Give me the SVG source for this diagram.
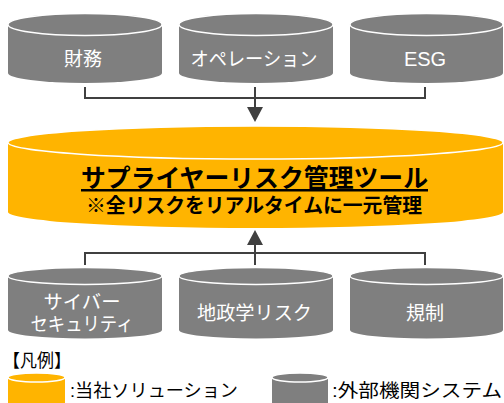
<svg xmlns="http://www.w3.org/2000/svg" width="504" height="403" viewBox="0 0 504 403">
<defs>
<style>
.gb{fill:#7f7f7f}
.gt{fill:#7f7f7f;stroke:#fff;stroke-width:1.5}
.ob{fill:#ffb400}
.ot{fill:#ffb400;stroke:#fff;stroke-width:1.5}
.wl{font-family:"Liberation Sans","Noto Sans CJK JP",sans-serif;font-size:19px;fill:#fff;text-anchor:middle}
.bl{font-family:"Liberation Sans","Noto Sans CJK JP",sans-serif;fill:#000}
.ln{fill:none;stroke:#404040;stroke-width:2}
.ah{fill:#404040}
</style>
</defs>
<g id="connectors">
<path class="ln" d="M85 87V98H425V87M255 87V108"/>
<polygon class="ah" points="247,107 263,107 255,122"/>
<path class="ln" d="M85 265V253H425V265M255 265V244"/>
<polygon class="ah" points="247,245 263,245 255,230"/>
</g>
<g id="finance">
<path class="gb" d="M8 24.5V73A77 10 0 0 0 162 73V24.5Z"/>
<ellipse class="gt" cx="85" cy="24.5" rx="77" ry="11"/>
<text class="wl" x="83" y="66">財務</text>
</g>
<g id="operation">
<path class="gb" d="M179 24.5V73A77 10 0 0 0 333 73V24.5Z"/>
<ellipse class="gt" cx="256" cy="24.5" rx="77" ry="11"/>
<text class="wl" x="254" y="66" textLength="127" lengthAdjust="spacingAndGlyphs">オペレーション</text>
</g>
<g id="esg">
<path class="gb" d="M350 24.5V73A76.5 10 0 0 0 503 73V24.5Z"/>
<ellipse class="gt" cx="426.5" cy="24.5" rx="76.5" ry="11"/>
<text class="wl" x="425" y="66" style="font-size:20px">ESG</text>
</g>
<g id="tool">
<path class="ob" d="M8 142.5V212A247.5 16 0 0 0 503 212V142.5Z"/>
<ellipse class="ot" cx="255.5" cy="142.5" rx="247.5" ry="16.5"/>
<text class="bl" x="254.5" y="187" text-anchor="middle" style="font-size:25px;font-weight:bold" text-decoration="underline" textLength="347" lengthAdjust="spacingAndGlyphs">サプライヤーリスク管理ツール</text>
<text class="bl" x="254" y="213" text-anchor="middle" style="font-size:20px;font-weight:bold" textLength="336" lengthAdjust="spacingAndGlyphs">※全リスクをリアルタイムに一元管理</text>
</g>
<g id="cyber">
<path class="gb" d="M8 276V330A77 8.5 0 0 0 162 330V276Z"/>
<ellipse class="gt" cx="85" cy="276" rx="77" ry="8.5"/>
<text class="wl" x="82" y="309" textLength="77" lengthAdjust="spacingAndGlyphs">サイバー</text>
<text class="wl" x="82" y="331" textLength="103" lengthAdjust="spacingAndGlyphs">セキュリティ</text>
</g>
<g id="geopolitics">
<path class="gb" d="M179 276V330A77 8.5 0 0 0 333 330V276Z"/>
<ellipse class="gt" cx="256" cy="276" rx="77" ry="8.5"/>
<text class="wl" x="254.5" y="320" textLength="115" lengthAdjust="spacingAndGlyphs">地政学リスク</text>
</g>
<g id="regulation">
<path class="gb" d="M350 276V330A76.5 8.5 0 0 0 503 330V276Z"/>
<ellipse class="gt" cx="426.5" cy="276" rx="76.5" ry="8.5"/>
<text class="wl" x="425" y="320">規制</text>
</g>
<g id="legend">
<text class="bl" x="3" y="367" style="font-size:18px" textLength="68" lengthAdjust="spacingAndGlyphs">【凡例】</text>
<rect class="ob" x="8" y="377.5" width="57" height="30"/>
<ellipse class="ot" cx="36.5" cy="377.5" rx="28.5" ry="4.5"/>
<text class="bl" x="70" y="397" style="font-size:18px" textLength="168" lengthAdjust="spacingAndGlyphs">:当社ソリューション</text>
<rect class="gb" x="272" y="377.5" width="56" height="30"/>
<ellipse class="gt" cx="300" cy="377.5" rx="28" ry="4.5"/>
<text class="bl" x="332" y="397" style="font-size:18px" textLength="170" lengthAdjust="spacingAndGlyphs">:外部機関システム</text>
</g>
</svg>
